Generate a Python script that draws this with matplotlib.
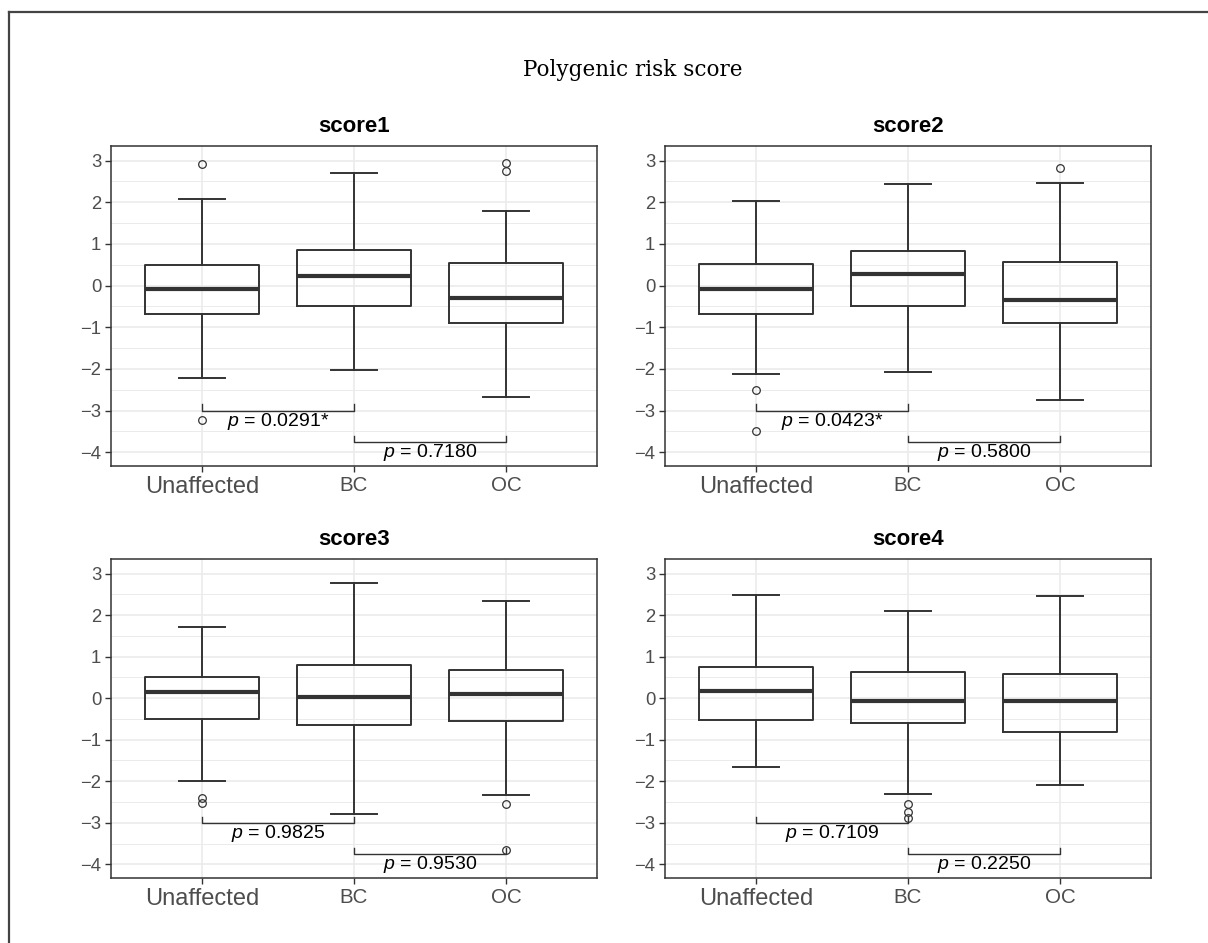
import matplotlib
matplotlib.use("Agg")
import matplotlib.pyplot as plt
from matplotlib.lines import Line2D

plt.rcParams["font.family"] = ["Liberation Sans", "DejaVu Sans"]
plt.rcParams["mathtext.fontset"] = "custom"
plt.rcParams["mathtext.it"] = "Liberation Sans:italic"
plt.rcParams["mathtext.rm"] = "Liberation Sans"

groups = ["Unaffected", "BC", "OC"]
titles = ["score1", "score2", "score3", "score4"]

# per panel, per group
medians = [[-0.09, 0.22, -0.29],
           [-0.09, 0.27, -0.34],
           [0.14, 0.02, 0.09],
           [0.17, -0.06, -0.06]]
q1s = [[-0.68, -0.50, -0.90],
       [-0.69, -0.49, -0.90],
       [-0.51, -0.64, -0.54],
       [-0.52, -0.59, -0.82]]
q3s = [[0.50, 0.86, 0.53],
       [0.52, 0.84, 0.56],
       [0.52, 0.79, 0.68],
       [0.76, 0.62, 0.58]]
whislo = [[-2.22, -2.02, -2.67],
          [-2.13, -2.07, -2.74],
          [-1.99, -2.78, -2.32],
          [-1.66, -2.31, -2.10]]
whishi = [[2.07, 2.71, 1.78],
          [2.03, 2.44, 2.46],
          [1.72, 2.77, 2.33],
          [2.48, 2.09, 2.46]]
fliers = [[[2.91, -3.22], [], [2.94, 2.75]],
          [[-2.50, -3.48], [], [2.82]],
          [[-2.40, -2.52], [], [-2.55, -3.65]],
          [[], [-2.56, -2.75, -2.89], []]]

p_left = ["0.0291*", "0.0423*", "0.9825", "0.7109"]
p_right = ["0.7180", "0.5800", "0.9530", "0.2250"]
bracket_y = [-3.0, -3.75]

W, H = 1208, 943
fig = plt.figure(figsize=(W / 100, H / 100), dpi=100)

# axes boxes in pixels: left, top, right, bottom
boxes = [(111, 146, 597, 466), (665, 146, 1151, 466),
         (111, 559, 597, 878), (665, 559, 1151, 878)]

edge = "#333333"
for i, (l, t, r, b) in enumerate(boxes):
    ax = fig.add_axes([l / W, 1 - b / H, (r - l) / W, (b - t) / H])
    stats = []
    for g in range(3):
        stats.append(dict(med=medians[i][g], q1=q1s[i][g], q3=q3s[i][g],
                          whislo=whislo[i][g], whishi=whishi[i][g],
                          fliers=fliers[i][g], label=groups[g]))
    ax.bxp(stats, positions=[1, 2, 3], widths=0.75, capwidths=0.3,
           boxprops=dict(color=edge, linewidth=1.4),
           whiskerprops=dict(color=edge, linewidth=1.4),
           capprops=dict(color=edge, linewidth=1.4),
           medianprops=dict(color=edge, linewidth=3.0),
           flierprops=dict(marker="o", markerfacecolor="none",
                           markeredgecolor=edge, markersize=5.5,
                           markeredgewidth=0.9),
           zorder=3)

    # significance brackets
    for k, (a, c, txt) in enumerate([(1, 2, p_left[i]), (2, 3, p_right[i])]):
        y = bracket_y[k]
        ax.plot([a, a, c, c], [y + 0.15, y, y, y + 0.15], color=edge,
                linewidth=1.0, zorder=4)
        ax.text((a + c) / 2, y - 0.25, "$p$ = " + txt, ha="center",
                va="center", fontsize=14, color="black", zorder=5)

    ax.set_yticks(range(-4, 4))
    ax.set_yticks([v + 0.5 for v in range(-5, 4)], minor=True)
    ax.set_xticks([1, 2, 3])
    ax.set_xticklabels(groups)
    ax.set_xlim(0.4, 3.6)
    ax.set_ylim(-4.33, 3.35)
    ax.grid(True, which="major", color="#EBEBEB", linewidth=1.2, zorder=0)
    ax.grid(True, which="minor", axis="y", color="#EBEBEB", linewidth=0.7, zorder=0)
    ax.set_axisbelow(True)
    ax.tick_params(axis="y", which="minor", length=0)
    ax.tick_params(which="major", length=4, width=1.0, color=edge,
                   labelcolor="#4D4D4D", labelsize=13.3, pad=3)
    for lab in ax.get_xticklabels():
        lab.set_fontsize(14.8)
    ax.get_xticklabels()[0].set_fontsize(17)
    for s in ax.spines.values():
        s.set_color(edge)
        s.set_linewidth(1.1)
    ax.set_title(titles[i], fontsize=16, fontweight="bold", pad=10)

fig.text(633 / W, 1 - 70 / H, "Polygenic risk score", ha="center", va="center",
         fontsize=15.5, family="DejaVu Serif")

# outer frame (top and left edge of the cropped figure box)
fig.add_artist(Line2D([9 / W, 1], [1 - 12 / H, 1 - 12 / H], color="#444444",
                      linewidth=1.6, transform=fig.transFigure))
fig.add_artist(Line2D([9 / W, 9 / W], [0, 1 - 12 / H], color="#444444",
                      linewidth=1.6, transform=fig.transFigure))

fig.savefig("out.png", dpi=100, facecolor="white")
